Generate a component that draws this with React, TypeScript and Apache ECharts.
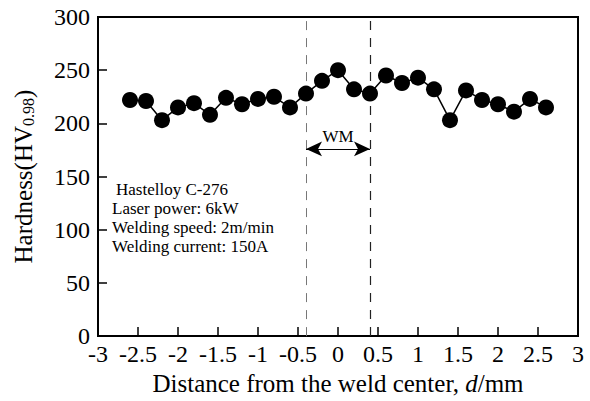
import React, { useEffect, useRef } from "react";
import * as echarts from "echarts";

const distances = [-2.6, -2.4, -2.2, -2.0, -1.8, -1.6, -1.4, -1.2, -1.0, -0.8, -0.6, -0.4, -0.2, 0, 0.2, 0.4, 0.6, 0.8, 1.0, 1.2, 1.4, 1.6, 1.8, 2.0, 2.2, 2.4, 2.6];
const hardness = [222, 221, 203, 215, 219, 208, 224, 218, 223, 225, 215, 228, 240, 250, 232, 228, 245, 238, 243, 232, 203, 231, 222, 218, 211, 223, 215];
const wmBounds = [-0.4, 0.4];
const wmArrowLevel = 176;
const infoLines = ["Hastelloy C-276", "Laser power: 6kW", "Welding speed: 2m/min", "Welding current: 150A"];

const FONT = "'Liberation Serif', 'Times New Roman', serif";

export default function App() {
  const ref = useRef<HTMLDivElement>(null);
  useEffect(() => {
    if (!ref.current) return;
    const chart = echarts.init(ref.current, null, { renderer: "svg" });
    const axisLine = { show: true, onZero: false, lineStyle: { color: "#000", width: 2 } };
    chart.setOption({
      animation: false,
      backgroundColor: "#fff",
      grid: { left: 98, right: 12, top: 17, bottom: 54, show: true, borderColor: "#000", borderWidth: 2, backgroundColor: "transparent" },
      xAxis: {
        type: "value",
        min: -3,
        max: 3,
        interval: 0.5,
        axisLine,
        axisTick: { show: true, inside: true, length: 9, lineStyle: { color: "#000", width: 1.5 } },
        splitLine: { show: false },
        axisLabel: { color: "#000", fontFamily: FONT, fontSize: 24, margin: 6 },
        name: "Distance from the weld center, {i|d}/mm",
        nameLocation: "middle",
        nameGap: 30,
        nameTextStyle: {
          color: "#000",
          fontFamily: FONT,
          fontSize: 25,
          rich: { i: { fontStyle: "italic", fontFamily: FONT, fontSize: 25, color: "#000" } },
        },
      },
      yAxis: {
        type: "value",
        min: 0,
        max: 300,
        interval: 50,
        axisLine,
        axisTick: { show: true, inside: true, length: 9, lineStyle: { color: "#000", width: 1.5 } },
        splitLine: { show: false },
        axisLabel: { color: "#000", fontFamily: FONT, fontSize: 24, margin: 8 },
        name: "{a|Hardness(HV}{b|0.98}{a|)}",
        nameLocation: "middle",
        nameGap: 62,
        nameTextStyle: {
          color: "#000",
          fontFamily: FONT,
          fontSize: 25,
          rich: {
            a: { fontFamily: FONT, fontSize: 25, color: "#000" },
            b: { fontFamily: FONT, fontSize: 16, color: "#000", padding: [10, 0, 0, 0] },
          },
        },
      },
      series: [
        {
          type: "line",
          data: distances.map((d, i) => [d, hardness[i]]),
          symbol: "circle",
          symbolSize: 16,
          itemStyle: { color: "#000" },
          lineStyle: { color: "#000", width: 1.5 },
          z: 5,
          markLine: {
            silent: true,
            symbol: "none",
            label: { show: false },
            data: [
              { xAxis: wmBounds[0], lineStyle: { color: "#777", type: [9, 8], width: 1 } },
              { xAxis: wmBounds[1], lineStyle: { color: "#222", type: [9, 8], width: 1.2 } },
            ],
          },
        },
        {
          type: "line",
          data: [],
          markLine: {
            silent: true,
            symbol: ["arrow", "arrow"],
            symbolSize: [11, 16],
            lineStyle: { color: "#000", width: 1, type: "solid" },
            label: {
              show: true,
              position: "insideMiddleTop",
              formatter: "WM",
              color: "#000",
              fontFamily: FONT,
              fontSize: 17,
              distance: 4,
            },
            data: [[{ coord: [wmBounds[0], wmArrowLevel] }, { coord: [wmBounds[1], wmArrowLevel] }]],
          },
        },
      ],
      graphic: infoLines.map((t, i) => ({
        type: "text",
        left: i === 0 ? 116 : 112,
        top: 181 + i * 19,
        style: { text: t, fill: "#000", font: `17px ${FONT}` },
      })),
    });
    return () => chart.dispose();
  }, []);
  return <div ref={ref} style={{ width: 590, height: 401, position: "absolute", left: 0, top: 0 }} />;
}
